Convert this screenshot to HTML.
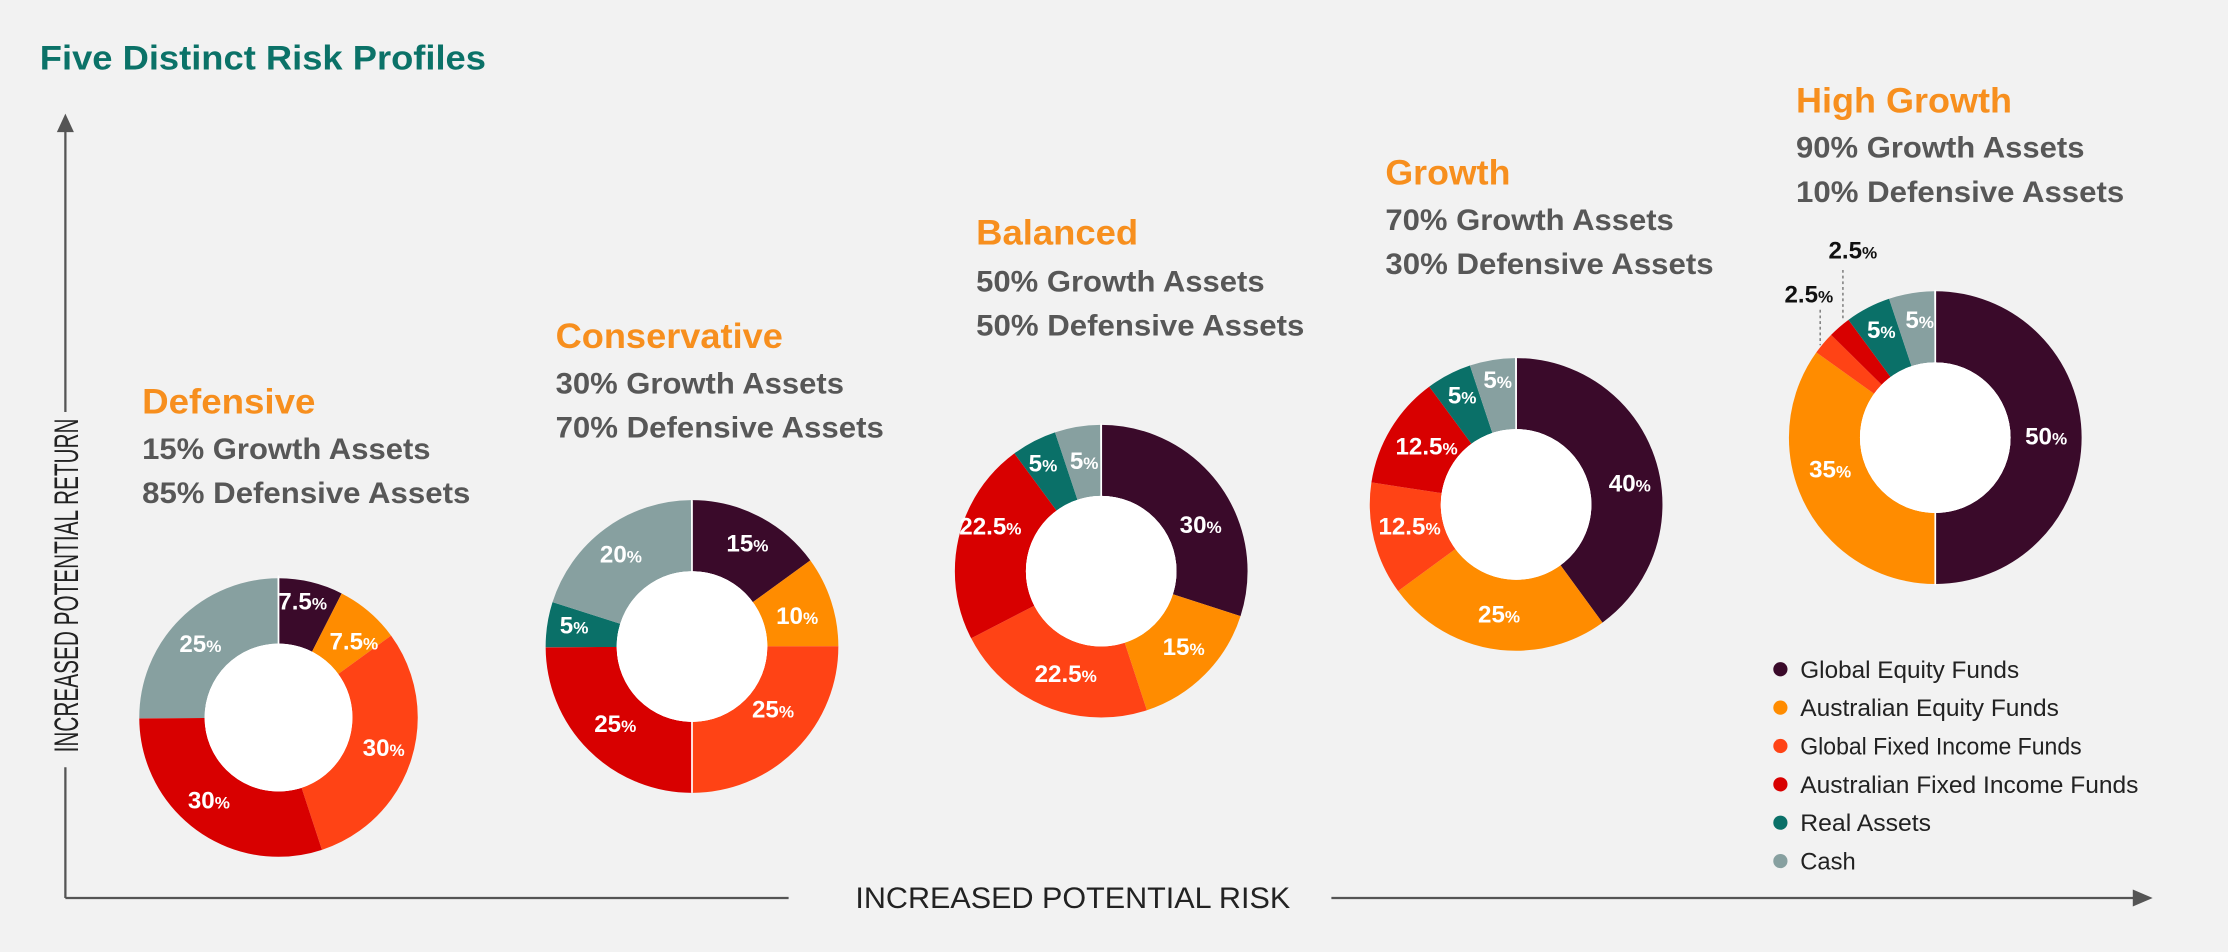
<!DOCTYPE html>
<html><head><meta charset="utf-8"><style>
html,body{margin:0;padding:0;background:#f2f2f2;}
svg{display:block;}
text{font-family:"Liberation Sans",sans-serif;}
.h{font-weight:bold;fill:#f78f1e;font-size:25px;}
.s{font-weight:bold;fill:#575757;font-size:21px;}
.l{font-weight:bold;fill:#fff;font-size:17px;text-anchor:middle;}
.l tspan{font-size:12px;}
.k{font-weight:bold;fill:#111;font-size:17px;text-anchor:middle;}
.k tspan{font-size:12px;}
.lg{fill:#222;font-size:17px;}
</style></head><body>
<svg width="2228" height="952" viewBox="0 0 1568 670" xmlns="http://www.w3.org/2000/svg">
<rect width="1568" height="670" fill="#f2f2f2"/>
<text x="28" y="49" font-size="24" font-weight="bold" fill="#0b7268" textLength="314" lengthAdjust="spacingAndGlyphs">Five Distinct Risk Profiles</text>
<g stroke="#555" stroke-width="1.6" fill="none">
<line x1="46" y1="92" x2="46" y2="290"/>
<line x1="46" y1="540" x2="46" y2="632"/>
<line x1="46" y1="632" x2="555" y2="632"/>
<line x1="937" y1="632" x2="1502" y2="632"/>
</g>
<polygon points="46,80 40,93 52,93" fill="#555"/>
<polygon points="1515,632 1501,626 1501,638" fill="#555"/>
<text transform="translate(55,412) rotate(-90)" text-anchor="middle" font-size="24" fill="#222" textLength="235" lengthAdjust="spacingAndGlyphs">INCREASED POTENTIAL RETURN</text>
<text x="602" y="639" font-size="21" fill="#222" textLength="306" lengthAdjust="spacingAndGlyphs">INCREASED POTENTIAL RISK</text>

<text class="h" x="100" y="291" textLength="122" lengthAdjust="spacingAndGlyphs">Defensive</text>
<text class="s" x="100" y="323" textLength="203" lengthAdjust="spacingAndGlyphs">15% Growth Assets</text>
<text class="s" x="100" y="354" textLength="231" lengthAdjust="spacingAndGlyphs">85% Defensive Assets</text>

<text class="h" x="391" y="245" textLength="160" lengthAdjust="spacingAndGlyphs">Conservative</text>
<text class="s" x="391" y="277" textLength="203" lengthAdjust="spacingAndGlyphs">30% Growth Assets</text>
<text class="s" x="391" y="308" textLength="231" lengthAdjust="spacingAndGlyphs">70% Defensive Assets</text>

<text class="h" x="687" y="172" textLength="114" lengthAdjust="spacingAndGlyphs">Balanced</text>
<text class="s" x="687" y="205" textLength="203" lengthAdjust="spacingAndGlyphs">50% Growth Assets</text>
<text class="s" x="687" y="236" textLength="231" lengthAdjust="spacingAndGlyphs">50% Defensive Assets</text>

<text class="h" x="975" y="130" textLength="88" lengthAdjust="spacingAndGlyphs">Growth</text>
<text class="s" x="975" y="162" textLength="203" lengthAdjust="spacingAndGlyphs">70% Growth Assets</text>
<text class="s" x="975" y="193" textLength="231" lengthAdjust="spacingAndGlyphs">30% Defensive Assets</text>

<text class="h" x="1264" y="79" textLength="152" lengthAdjust="spacingAndGlyphs">High Growth</text>
<text class="s" x="1264" y="111" textLength="203" lengthAdjust="spacingAndGlyphs">90% Growth Assets</text>
<text class="s" x="1264" y="142" textLength="231" lengthAdjust="spacingAndGlyphs">10% Defensive Assets</text>

<!-- donut 1 -->
<g transform="rotate(-90 196 505)" fill="none" stroke-width="46">
<circle cx="196" cy="505" r="75" pathLength="100" stroke="#3a0a2a" stroke-dasharray="7.5 100" stroke-dashoffset="0"/>
<circle cx="196" cy="505" r="75" pathLength="100" stroke="#ff8c00" stroke-dasharray="7.5 100" stroke-dashoffset="-7.5"/>
<circle cx="196" cy="505" r="75" pathLength="100" stroke="#ff4315" stroke-dasharray="30 100" stroke-dashoffset="-15"/>
<circle cx="196" cy="505" r="75" pathLength="100" stroke="#d80000" stroke-dasharray="30 100" stroke-dashoffset="-45"/>
<circle cx="196" cy="505" r="75" pathLength="100" stroke="#87a0a0" stroke-dasharray="25 100" stroke-dashoffset="-75"/>
</g>
<circle cx="196" cy="505" r="52" fill="#fff"/>
<text class="l" x="213" y="429">7.5<tspan>%</tspan></text>
<text class="l" x="249" y="457">7.5<tspan>%</tspan></text>
<text class="l" x="270" y="532">30<tspan>%</tspan></text>
<text class="l" x="147" y="569">30<tspan>%</tspan></text>
<text class="l" x="141" y="459">25<tspan>%</tspan></text>

<!-- donut 2 -->
<g transform="rotate(-90 487 455)" fill="none" stroke-width="50">
<circle cx="487" cy="455" r="78" pathLength="100" stroke="#3a0a2a" stroke-dasharray="15 100" stroke-dashoffset="0"/>
<circle cx="487" cy="455" r="78" pathLength="100" stroke="#ff8c00" stroke-dasharray="10 100" stroke-dashoffset="-15"/>
<circle cx="487" cy="455" r="78" pathLength="100" stroke="#ff4315" stroke-dasharray="25 100" stroke-dashoffset="-25"/>
<circle cx="487" cy="455" r="78" pathLength="100" stroke="#d80000" stroke-dasharray="25 100" stroke-dashoffset="-50"/>
<circle cx="487" cy="455" r="78" pathLength="100" stroke="#0a7068" stroke-dasharray="5 100" stroke-dashoffset="-75"/>
<circle cx="487" cy="455" r="78" pathLength="100" stroke="#87a0a0" stroke-dasharray="20 100" stroke-dashoffset="-80"/>
</g>
<circle cx="487" cy="455" r="53" fill="#fff"/>
<text class="l" x="526" y="388">15<tspan>%</tspan></text>
<text class="l" x="561" y="439">10<tspan>%</tspan></text>
<text class="l" x="544" y="505">25<tspan>%</tspan></text>
<text class="l" x="433" y="515">25<tspan>%</tspan></text>
<text class="l" x="404" y="446">5<tspan>%</tspan></text>
<text class="l" x="437" y="396">20<tspan>%</tspan></text>

<!-- donut 3 -->
<g transform="rotate(-90 775 402)" fill="none" stroke-width="50">
<circle cx="775" cy="402" r="78" pathLength="100" stroke="#3a0a2a" stroke-dasharray="30 100" stroke-dashoffset="0"/>
<circle cx="775" cy="402" r="78" pathLength="100" stroke="#ff8c00" stroke-dasharray="15 100" stroke-dashoffset="-30"/>
<circle cx="775" cy="402" r="78" pathLength="100" stroke="#ff4315" stroke-dasharray="22.5 100" stroke-dashoffset="-45"/>
<circle cx="775" cy="402" r="78" pathLength="100" stroke="#d80000" stroke-dasharray="22.5 100" stroke-dashoffset="-67.5"/>
<circle cx="775" cy="402" r="78" pathLength="100" stroke="#0a7068" stroke-dasharray="5 100" stroke-dashoffset="-90"/>
<circle cx="775" cy="402" r="78" pathLength="100" stroke="#87a0a0" stroke-dasharray="5 100" stroke-dashoffset="-95"/>
</g>
<circle cx="775" cy="402" r="53" fill="#fff"/>
<text class="l" x="845" y="375">30<tspan>%</tspan></text>
<text class="l" x="833" y="461">15<tspan>%</tspan></text>
<text class="l" x="750" y="480">22.5<tspan>%</tspan></text>
<text class="l" x="697" y="376">22.5<tspan>%</tspan></text>
<text class="l" x="734" y="332">5<tspan>%</tspan></text>
<text class="l" x="763" y="330">5<tspan>%</tspan></text>

<!-- donut 4 -->
<g transform="rotate(-90 1067 355)" fill="none" stroke-width="50">
<circle cx="1067" cy="355" r="78" pathLength="100" stroke="#3a0a2a" stroke-dasharray="40 100" stroke-dashoffset="0"/>
<circle cx="1067" cy="355" r="78" pathLength="100" stroke="#ff8c00" stroke-dasharray="25 100" stroke-dashoffset="-40"/>
<circle cx="1067" cy="355" r="78" pathLength="100" stroke="#ff4315" stroke-dasharray="12.5 100" stroke-dashoffset="-65"/>
<circle cx="1067" cy="355" r="78" pathLength="100" stroke="#d80000" stroke-dasharray="12.5 100" stroke-dashoffset="-77.5"/>
<circle cx="1067" cy="355" r="78" pathLength="100" stroke="#0a7068" stroke-dasharray="5 100" stroke-dashoffset="-90"/>
<circle cx="1067" cy="355" r="78" pathLength="100" stroke="#87a0a0" stroke-dasharray="5 100" stroke-dashoffset="-95"/>
</g>
<circle cx="1067" cy="355" r="53" fill="#fff"/>
<text class="l" x="1147" y="346">40<tspan>%</tspan></text>
<text class="l" x="1055" y="438">25<tspan>%</tspan></text>
<text class="l" x="992" y="376">12.5<tspan>%</tspan></text>
<text class="l" x="1004" y="320">12.5<tspan>%</tspan></text>
<text class="l" x="1029" y="284">5<tspan>%</tspan></text>
<text class="l" x="1054" y="273">5<tspan>%</tspan></text>

<!-- donut 5 -->
<g transform="rotate(-90 1362 308)" fill="none" stroke-width="50">
<circle cx="1362" cy="308" r="78" pathLength="100" stroke="#3a0a2a" stroke-dasharray="50 100" stroke-dashoffset="0"/>
<circle cx="1362" cy="308" r="78" pathLength="100" stroke="#ff8c00" stroke-dasharray="35 100" stroke-dashoffset="-50"/>
<circle cx="1362" cy="308" r="78" pathLength="100" stroke="#ff4315" stroke-dasharray="2.5 100" stroke-dashoffset="-85"/>
<circle cx="1362" cy="308" r="78" pathLength="100" stroke="#d80000" stroke-dasharray="2.5 100" stroke-dashoffset="-87.5"/>
<circle cx="1362" cy="308" r="78" pathLength="100" stroke="#0a7068" stroke-dasharray="5 100" stroke-dashoffset="-90"/>
<circle cx="1362" cy="308" r="78" pathLength="100" stroke="#87a0a0" stroke-dasharray="5 100" stroke-dashoffset="-95"/>
</g>
<circle cx="1362" cy="308" r="53" fill="#fff"/>
<text class="l" x="1440" y="313">50<tspan>%</tspan></text>
<text class="l" x="1288" y="336">35<tspan>%</tspan></text>
<text class="l" x="1324" y="238">5<tspan>%</tspan></text>
<text class="l" x="1351" y="231">5<tspan>%</tspan></text>

<!-- white separators -->
<g stroke="#fff" stroke-width="1.2">
<line x1="196" y1="505" x2="196" y2="405"/>
<line x1="487" y1="455" x2="487" y2="352"/>
<line x1="487" y1="455" x2="487" y2="558"/>
<line x1="775" y1="402" x2="775" y2="298"/>
<line x1="1067" y1="355" x2="1067" y2="251"/>
<line x1="1362" y1="308" x2="1362" y2="204"/>
<line x1="1362" y1="308" x2="1362" y2="412"/>
</g>
<circle cx="196" cy="505" r="52" fill="#fff"/>
<circle cx="487" cy="455" r="53" fill="#fff"/>
<circle cx="775" cy="402" r="53" fill="#fff"/>
<circle cx="1067" cy="355" r="53" fill="#fff"/>
<circle cx="1362" cy="308" r="53" fill="#fff"/>

<g stroke="#777" stroke-width="1" stroke-dasharray="2 2">
<line x1="1297" y1="190" x2="1297" y2="225"/>
<line x1="1281" y1="218" x2="1281" y2="243"/>
</g>
<text class="k" x="1304" y="182">2.5<tspan>%</tspan></text>
<text class="k" x="1273" y="213">2.5<tspan>%</tspan></text>

<circle cx="1253" cy="471" r="5" fill="#3a0a2a"/>
<circle cx="1253" cy="498" r="5" fill="#ff8c00"/>
<circle cx="1253" cy="525" r="5" fill="#ff4315"/>
<circle cx="1253" cy="552" r="5" fill="#d80000"/>
<circle cx="1253" cy="579" r="5" fill="#0a7068"/>
<circle cx="1253" cy="606" r="5" fill="#87a0a0"/>
<text class="lg" x="1267" y="477" textLength="154" lengthAdjust="spacingAndGlyphs">Global Equity Funds</text>
<text class="lg" x="1267" y="504" textLength="182" lengthAdjust="spacingAndGlyphs">Australian Equity Funds</text>
<text class="lg" x="1267" y="531" textLength="198" lengthAdjust="spacingAndGlyphs">Global Fixed Income Funds</text>
<text class="lg" x="1267" y="558" textLength="238" lengthAdjust="spacingAndGlyphs">Australian Fixed Income Funds</text>
<text class="lg" x="1267" y="585" textLength="92" lengthAdjust="spacingAndGlyphs">Real Assets</text>
<text class="lg" x="1267" y="612" textLength="39" lengthAdjust="spacingAndGlyphs">Cash</text>
</svg>
</body></html>
